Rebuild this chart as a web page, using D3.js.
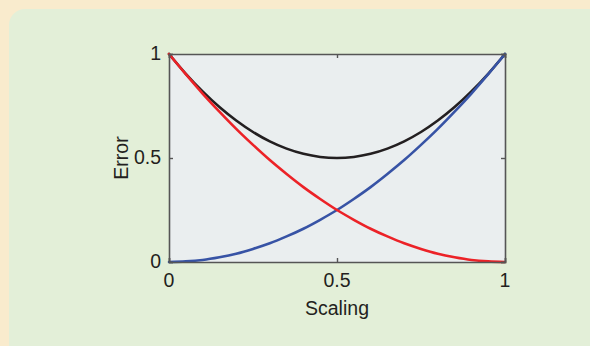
<!DOCTYPE html>
<html>
<head>
<meta charset="utf-8">
<script src="https://cdn.jsdelivr.net/npm/d3@7"></script>
<style>
  html, body { margin: 0; padding: 0; background: #f9ebcd; }
  svg { display: block; }
  text { font-family: "Liberation Sans", Arial, Helvetica, sans-serif; fill: #231f20; }
</style>
</head>
<body>
<svg id="chart" width="590" height="346"></svg>
<script>
// Scaling factor along the x axis
const scaling = [0, 0.05, 0.1, 0.15, 0.2, 0.25, 0.3, 0.35, 0.4, 0.45, 0.5,
                 0.55, 0.6, 0.65, 0.7, 0.75, 0.8, 0.85, 0.9, 0.95, 1];
// Error contributions
const redError   = [1, 0.903, 0.81, 0.723, 0.64, 0.563, 0.49, 0.423, 0.36, 0.303, 0.25,
                    0.203, 0.16, 0.123, 0.09, 0.063, 0.04, 0.023, 0.01, 0.003, 0];
const blueError  = [0, 0.003, 0.01, 0.023, 0.04, 0.063, 0.09, 0.123, 0.16, 0.203, 0.25,
                    0.303, 0.36, 0.423, 0.49, 0.563, 0.64, 0.723, 0.81, 0.903, 1];
const totalError = [1, 0.905, 0.82, 0.745, 0.68, 0.625, 0.58, 0.545, 0.52, 0.505, 0.5,
                    0.505, 0.52, 0.545, 0.58, 0.625, 0.68, 0.745, 0.82, 0.905, 1];
const xTicks = [0, 0.5, 1];
const yTicks = [0, 0.5, 1];
const xTickLabels = ["0", "0.5", "1"];
const yTickLabels = ["0", "0.5", "1"];
const xTitle = "Scaling";
const yTitle = "Error";

const svg = d3.select("#chart");

// Green panel with rounded top-left corner, running off the right and bottom edges
svg.append("rect")
  .attr("x", 9).attr("y", 9)
  .attr("width", 620).attr("height", 380)
  .attr("rx", 16).attr("ry", 16)
  .attr("fill", "#e3efd8");

const plot = { left: 169, top: 54, right: 505, bottom: 262 };
const x = d3.scaleLinear().domain([0, 1]).range([plot.left, plot.right]);
const y = d3.scaleLinear().domain([0, 1]).range([plot.bottom, plot.top]);

// Plot area
svg.append("rect")
  .attr("x", plot.left).attr("y", plot.top)
  .attr("width", plot.right - plot.left).attr("height", plot.bottom - plot.top)
  .attr("fill", "#eaeeef");

const line = d3.line()
  .x((d, i) => x(scaling[i]))
  .y(d => y(d))
  .curve(d3.curveCatmullRom);

const series = [
  { values: totalError, color: "#231f20" },
  { values: blueError,  color: "#3753a5" },
  { values: redError,   color: "#ec2227" }
];

svg.append("g").selectAll("path")
  .data(series)
  .join("path")
  .attr("d", d => line(d.values))
  .attr("fill", "none")
  .attr("stroke", d => d.color)
  .attr("stroke-width", 2.6)
  .attr("stroke-linecap", "round");

// Axes: inward ticks on all four sides, box frame
const tickLen = 4;
const axisColor = "#555555";

const bottomAxis = d3.axisBottom(x).tickValues(xTicks).tickSize(-tickLen).tickFormat("");
const topAxis = d3.axisTop(x).tickValues(xTicks).tickSize(-tickLen).tickFormat("");
const leftAxis = d3.axisLeft(y).tickValues(yTicks).tickSize(-tickLen).tickFormat("");
const rightAxis = d3.axisRight(y).tickValues(yTicks).tickSize(-tickLen).tickFormat("");

function styleAxis(g) {
  g.selectAll("path").attr("stroke", axisColor).attr("stroke-width", 1.6);
  g.selectAll("line").attr("stroke", axisColor).attr("stroke-width", 1.4);
}

svg.append("g").attr("transform", `translate(0,${plot.bottom})`).call(bottomAxis).call(styleAxis);
svg.append("g").attr("transform", `translate(0,${plot.top})`).call(topAxis).call(styleAxis);
svg.append("g").attr("transform", `translate(${plot.left},0)`).call(leftAxis).call(styleAxis);
svg.append("g").attr("transform", `translate(${plot.right},0)`).call(rightAxis).call(styleAxis);

// Tick labels
svg.append("g").selectAll("text")
  .data(xTicks)
  .join("text")
  .attr("x", d => x(d))
  .attr("y", 287)
  .attr("text-anchor", "middle")
  .attr("font-size", 19.5)
  .text((d, i) => xTickLabels[i]);

svg.append("g").selectAll("text")
  .data(yTicks)
  .join("text")
  .attr("x", 161)
  .attr("y", d => y(d) + 5.5)
  .attr("text-anchor", "end")
  .attr("font-size", 19.5)
  .text((d, i) => yTickLabels[i]);

// Axis titles
svg.append("text")
  .attr("x", x(0.5))
  .attr("y", 315)
  .attr("text-anchor", "middle")
  .attr("font-size", 19.5)
  .text(xTitle);

svg.append("text")
  .attr("transform", `translate(128,${y(0.5)}) rotate(-90)`)
  .attr("text-anchor", "middle")
  .attr("font-size", 19.5)
  .text(yTitle);
</script>
</body>
</html>
